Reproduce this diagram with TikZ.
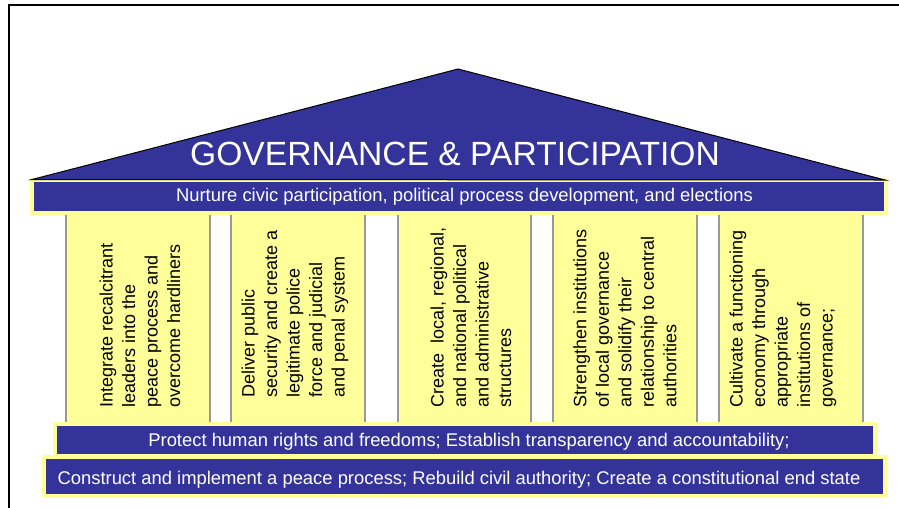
\documentclass[tikz,border=0pt]{standalone}
\usepackage{fontspec}
\setmainfont{Liberation Sans}
\definecolor{roofblue}{HTML}{333399}
\definecolor{paleyellow}{HTML}{FFFF99}
\definecolor{pillargray}{HTML}{999999}
\tikzset{
  band/.style={fill=roofblue, draw=paleyellow, line width=4pt},
  bandtext/.style={text=white, anchor=base, inner sep=0pt, font=\fontsize{18.4}{21}\selectfont},
  pillar/.style={fill=paleyellow, draw=pillargray, line width=1.5pt},
  pillartext/.style={rotate=90, anchor=west, align=left, inner sep=0pt, font=\fontsize{18}{22.5}\selectfont},
}
\begin{document}
\begin{tikzpicture}[x=1pt, y=-1pt]
  \clip (0,0) rectangle (899,507);
  % frame
  \draw[line width=2pt] (9,520) -- (9,5) -- (910,5);
  % pillars
  \draw[pillar] (66,211) rectangle (210,424);
  \draw[pillar] (231,211) rectangle (365,424);
  \draw[pillar] (398,211) rectangle (531,424);
  \draw[pillar] (553,211) rectangle (697,424);
  \draw[pillar] (719,211) rectangle (863,424);
  % upper band under the roof
  \draw[band] (32,179.5) rectangle (886,212.5);
  % roof
  \coordinate (eaveL) at (32,179.5);
  \coordinate (ridge) at (458,69);
  \coordinate (eaveR) at (885,180);
  \filldraw[fill=roofblue, draw=black, line width=1pt] (eaveL) -- (ridge) -- (eaveR) -- cycle;
  % lower bands
  \draw[band] (54.5,424) rectangle (874.5,456);
  \draw[band] (43.5,457) rectangle (885,496);
  % texts
  \node[bandtext, font=\fontsize{33.6}{36}\selectfont] (title) at (455,165.5) {GOVERNANCE \& PARTICIPATION};
  \node[bandtext] (civic) at (464.5,201.7) {Nurture civic participation, political process development, and elections};
  \node[bandtext] (rights) at (469,446) {Protect human rights and freedoms; Establish transparency and accountability;};
  \node[bandtext] (peace) at (459,484) {Construct and implement a peace process; Rebuild civil authority; Create a constitutional end state};
  \node[pillartext] (hardliners) at (140,408) {Integrate recalcitrant\\leaders into the\\peace process and\\overcome hardliners};
  \node[pillartext] (security) at (295,398) {Deliver public\\security and create a\\legitimate police\\force and judicial\\and penal system};
  \node[pillartext] (structures) at (471,408) {Create~ local, regional,\\and national political\\and administrative\\structures};
  \node[pillartext] (institutions) at (625,408) {Strengthen institutions\\of local governance\\and solidify their\\relationship to central\\authorities};
  \node[pillartext] (economy) at (783,408) {Cultivate a functioning\\economy through\\appropriate\\institutions of\\governance;};
\end{tikzpicture}
\end{document}
